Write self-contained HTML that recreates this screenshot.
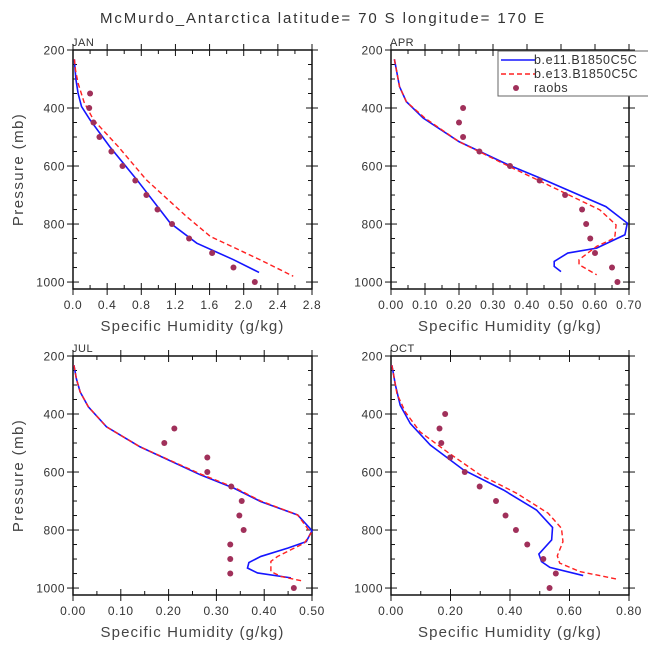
<!DOCTYPE html>
<html><head><meta charset="utf-8"><style>
html,body{margin:0;padding:0;background:#fff;}
svg{display:block;font-family:"Liberation Sans",sans-serif;}
</style></head><body>
<svg id="c" width="648" height="648" xmlns="http://www.w3.org/2000/svg">
<text x="323" y="23" text-anchor="middle" font-size="15" fill="#333" letter-spacing="1.9">McMurdo_Antarctica  latitude= 70 S longitude= 170 E</text>
</svg>
<script>
// JAN
const janBlueQ=[0.016,0.025,0.035,0.06,0.10,0.2,0.43,0.75,1.14,1.45,1.88,2.18];
const janBlueP=[232,270,303,350,395,441,533,648,797,866,923,967];
const janRedQ=[0.016,0.03,0.06,0.13,0.24,0.53,0.86,1.33,1.61,2.19,2.58];
const janRedP=[232,270,315,380,441,533,648,774,843,923,980];
const janObsQ=[0.2,0.19,0.24,0.31,0.45,0.58,0.73,0.86,0.99,1.16,1.36,1.63,1.88,2.13];
const janObsP=[350,400,450,500,550,600,650,700,750,800,850,900,950,1000];
// APR
const aprBlueQ=[0.01,0.025,0.045,0.095,0.2,0.345,0.44,0.632,0.695,0.688,0.605,0.52,0.48,0.48,0.5];
const aprBlueP=[232,326,378,435,516,596,642,740,797,837,883,900,929,946,964];
const aprRedQ=[0.01,0.025,0.045,0.1,0.2,0.345,0.44,0.614,0.662,0.658,0.605,0.553,0.553,0.605];
const aprRedP=[232,326,378,435,516,600,653,751,803,848,877,923,940,975];
const aprObsQ=[0.212,0.2,0.212,0.26,0.35,0.437,0.512,0.562,0.574,0.586,0.6,0.65,0.666];
const aprObsP=[400,450,500,550,600,650,700,750,800,850,900,950,1000];
// JUL
const julBlueQ=[0.002,0.007,0.015,0.032,0.07,0.14,0.267,0.337,0.393,0.47,0.5,0.488,0.45,0.393,0.368,0.365,0.386,0.456];
const julBlueP=[232,278,324,375,444,513,610,656,702,748,802,840,862,891,912,931,948,965];
const julRedQ=[0.002,0.007,0.015,0.032,0.07,0.14,0.267,0.337,0.393,0.47,0.498,0.484,0.428,0.414,0.414,0.435,0.478];
const julRedP=[232,278,324,375,444,513,607,653,700,748,811,845,891,908,943,960,975];
const julObsQ=[0.212,0.191,0.281,0.281,0.331,0.353,0.348,0.357,0.329,0.329,0.329,0.462];
const julObsP=[450,500,550,600,650,700,750,800,850,900,950,1000];
// OCT
const octBlueQ=[0.003,0.015,0.031,0.065,0.132,0.244,0.378,0.489,0.543,0.54,0.497,0.506,0.534,0.646];
const octBlueP=[232,301,370,433,507,593,662,731,791,834,883,909,929,957];
const octRedQ=[0.003,0.02,0.048,0.098,0.188,0.30,0.422,0.528,0.573,0.578,0.559,0.567,0.634,0.763];
const octRedP=[232,330,393,462,530,610,673,742,794,840,889,914,943,970];
const octObsQ=[0.182,0.163,0.169,0.199,0.248,0.298,0.353,0.385,0.42,0.458,0.512,0.554,0.533];
const octObsP=[400,450,500,550,600,650,700,750,800,850,900,950,1000];
// axis ticks
const janTicks=["0.0","0.4","0.8","1.2","1.6","2.0","2.4","2.8"];
const aprTicks=["0.00","0.10","0.20","0.30","0.40","0.50","0.60","0.70"];
const julTicks=["0.00","0.10","0.20","0.30","0.40","0.50"];
const octTicks=["0.00","0.20","0.40","0.60","0.80"];
const pTicks=[200,400,600,800,1000];

const svg=document.getElementById('c');
const NS='http://www.w3.org/2000/svg';
function mk(tag,attrs,parent){const e=document.createElementNS(NS,tag);for(const k in attrs)e.setAttribute(k,attrs[k]);(parent||svg).appendChild(e);return e;}

function panel(name,L,R,T,B,xmax,ticks,minorStep,bq,bp,rq,rp,oq,op,showY){
  const g=mk('g',{});
  
  
  const pmax=1024;
  const sx=q=>L+(q/xmax)*(R-L);
  const sy=p=>T+(p-200)/(pmax-200)*(B-T);
  const box=mk('rect',{x:L,y:T,width:R-L,height:B-T,fill:'none',stroke:'#111','stroke-width':1.5},g);
  
  
  const lab=mk('text',{x:L-1,y:T-4,'font-size':11,fill:'#333','letter-spacing':0.5},g);
  lab.textContent=name;
  
  
  for(let p=200;p<=1000;p+=50){
    const y=sy(p);const major=(p%200===0);
    const len=major?6:4;
    mk('line',{x1:L-(major?6:0),x2:L+len,y1:y,y2:y,stroke:'#111','stroke-width':1},g);
    mk('line',{x1:R+(major?6:0),x2:R-len,y1:y,y2:y,stroke:'#111','stroke-width':1},g);
  }
  pTicks.forEach(p=>{
    const t=mk('text',{x:L-8,y:sy(p)+4.5,'text-anchor':'end','font-size':12,fill:'#333','letter-spacing':0.5},g);
    t.textContent=p;
    
    
  });
  const majorStep=xmax/(ticks.length-1);
  const nMinor=Math.round(xmax/minorStep);
  for(let i=0;i<=nMinor;i++){
    const q=i*minorStep;const x=sx(q);
    const major=Math.abs(q/majorStep-Math.round(q/majorStep))<1e-6;
    const len=major?6:4;
    mk('line',{x1:x,x2:x,y1:B+(major?6:0),y2:B-len,stroke:'#111','stroke-width':1},g);
    mk('line',{x1:x,x2:x,y1:T-(major?6:0),y2:T+len,stroke:'#111','stroke-width':1},g);
  }
  ticks.forEach((s,i)=>{
    const t=mk('text',{x:sx(i*majorStep),y:B+20,'text-anchor':'middle','font-size':12,fill:'#333','letter-spacing':0.6},g);
    t.textContent=s;
    
    
  });
  const xt=mk('text',{x:(L+R)/2,y:B+42,'text-anchor':'middle','font-size':15,fill:'#444','letter-spacing':1.1},g);
  xt.textContent='Specific Humidity (g/kg)';
  
  
  if(showY){
    const yt=mk('text',{x:23,y:(T+B)/2,'text-anchor':'middle','font-size':15,fill:'#444','letter-spacing':1.4,transform:'rotate(-90 23 '+((T+B)/2)+')'},g);
    yt.textContent='Pressure (mb)';
    
    
  }
  const bl=mk('polyline',{points:bq.map((q,i)=>sx(q)+','+sy(bp[i])).join(' '),fill:'none',stroke:'#1515ff','stroke-width':1.6},g);
  
  
  const rl=mk('polyline',{points:rq.map((q,i)=>sx(q)+','+sy(rp[i])).join(' '),fill:'none',stroke:'#ff2020','stroke-width':1.4,'stroke-dasharray':'5,3'},g);
  
  
  oq.forEach((q,i)=>{
    const c=mk('circle',{cx:sx(q),cy:sy(op[i]),r:3,fill:'#a0305a'},g);
    
    
  });
}
panel('JAN',73,312,50,289,2.8,janTicks,0.2,janBlueQ,janBlueP,janRedQ,janRedP,janObsQ,janObsP,true);
panel('APR',391,629,50,289,0.7,aprTicks,0.05,aprBlueQ,aprBlueP,aprRedQ,aprRedP,aprObsQ,aprObsP,false);
panel('JUL',73,312,356,595,0.5,julTicks,0.05,julBlueQ,julBlueP,julRedQ,julRedP,julObsQ,julObsP,true);
panel('OCT',391,629,356,595,0.8,octTicks,0.1,octBlueQ,octBlueP,octRedQ,octRedP,octObsQ,octObsP,false);

const lg=mk('g',{});


mk('rect',{x:498,y:51,width:152,height:45,fill:'#fff',stroke:'#666','stroke-width':1},lg);
mk('line',{x1:501,x2:535,y1:60,y2:60,stroke:'#1515ff','stroke-width':1.6},lg);
mk('line',{x1:501,x2:535,y1:74,y2:74,stroke:'#ff2020','stroke-width':1.4,'stroke-dasharray':'5,3'},lg);
mk('circle',{cx:516,cy:88,r:3,fill:'#a0305a'},lg);
const legendLabels=['b.e11.B1850C5C','b.e13.B1850C5C','raobs'];
legendLabels.forEach((s,i)=>{
  const t=mk('text',{x:534,y:64+i*14,'font-size':12.5,fill:'#333','letter-spacing':0.6},lg);
  t.textContent=s;
  
  
});
</script>
</body></html>
